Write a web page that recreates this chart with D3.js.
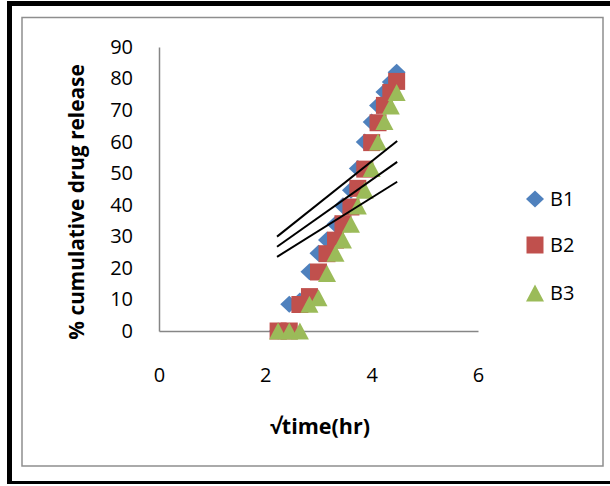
<!DOCTYPE html>
<html><head><meta charset="utf-8">
<script src="https://cdn.jsdelivr.net/npm/d3@7"></script>
<style>body{margin:0;background:#fff} text{font-family:"Open Sans",sans-serif;fill:#000}</style>
</head><body><svg id="c" width="610" height="486"></svg>
<script>
// ---- data ----
const sqrtTime = [2.24,2.45,2.65,2.83,3.00,3.16,3.32,3.46,3.61,3.74,3.87,4.00,4.12,4.24,4.36,4.47];
const B1 = [0,8.5,9.5,18.8,24.6,28.8,33.8,39.7,44.6,51.5,59.9,66.2,71.5,75.7,78.9,82.0];
const B2 = [0,0,8.4,10.9,18.7,24.5,28.8,34.0,39.3,45.2,51.3,59.7,66.0,71.5,75.6,79.1];
const B3 = [0,0,0,8.5,10.5,18.2,24.6,28.8,33.8,39.6,44.6,51.5,59.9,66.4,71.3,75.6];
const seriesNames = ["B1","B2","B3"];
const xTicks = [0,2,4,6];
const yTicks = [0,10,20,30,40,50,60,70,80,90];
const guideX = [2.22,4.48];
const guide1 = [29.9,60.2];
const guide2 = [26.7,53.6];
const guide3 = [23.5,47.3];

// ---- chart ----
const svg = d3.select("#c");
const colors = {B1:"#4F81BD", B2:"#C0504D", B3:"#9BBB59"};
const x = d3.scaleLinear().domain([0,6]).range([159,478]);
const y = d3.scaleLinear().domain([0,90]).range([331,47]);

// frame
svg.append("rect").attr("x",0).attr("y",0).attr("width",610).attr("height",486).attr("fill","#fff");
svg.append("line").attr("x1",9.5).attr("x2",9.5).attr("y1",1).attr("y2",484).attr("stroke","#000").attr("stroke-width",5);
svg.append("line").attr("x1",7).attr("x2",610).attr("y1",3.5).attr("y2",3.5).attr("stroke","#000").attr("stroke-width",5);
svg.append("line").attr("x1",7).attr("x2",610).attr("y1",482.5).attr("y2",482.5).attr("stroke","#000").attr("stroke-width",3);
svg.append("rect").attr("x",22).attr("y",17.5).attr("width",581).attr("height",448.5)
  .attr("fill","none").attr("stroke","#8e8e8e").attr("stroke-width",1.5);

// axes
const fmt = d3.format("d");
const ya = svg.append("g").attr("transform",`translate(${x(0)},0)`)
  .call(d3.axisLeft(y).tickValues(yTicks).tickFormat(fmt).tickSize(0).tickSizeOuter(0).tickPadding(26));
const xa = svg.append("g").attr("transform",`translate(0,${y(0)})`)
  .call(d3.axisBottom(x).tickValues(xTicks).tickFormat(fmt).tickSize(0).tickSizeOuter(0).tickPadding(37));
[ya,xa].forEach(g=>{
  g.select(".domain").attr("stroke","#868686").attr("stroke-width",1.5);
  g.selectAll("text").style("font-family",'"Open Sans",sans-serif').style("font-size","20px").attr("fill","#000");
});

// axis titles
svg.append("text").attr("x",320).attr("y",434).attr("text-anchor","middle")
  .style("font-size","21.5px").style("font-weight","bold").text("√time(hr)");
svg.append("text").attr("transform","translate(84,202) rotate(-90)").attr("text-anchor","middle")
  .style("font-size","20.8px").style("font-weight","bold").text("% cumulative drug release");

// marker shapes
function shape(name){
  if(name==="B1") return "M-9,0L0,-8.5L9,0L0,8.5Z";
  if(name==="B2") return "M-8.5,-8.5H8.5V8.5H-8.5Z";
  return "M-9,8.5L0,-8.5L9,8.5Z";
}
const data = {B1,B2,B3};
seriesNames.forEach(n=>{
  svg.append("g").selectAll("path").data(sqrtTime.map((t,i)=>[t,data[n][i]])).join("path")
    .attr("d",shape(n)).attr("fill",colors[n])
    .attr("transform",d=>`translate(${x(d[0])},${y(d[1])})`);
});

// guide lines
[guide1,guide2,guide3].forEach(g=>{
  svg.append("line").attr("x1",x(guideX[0])).attr("y1",y(g[0]))
    .attr("x2",x(guideX[1])).attr("y2",y(g[1])).attr("stroke","#000").attr("stroke-width",2);
});

// legend
const ly = [199,245,293];
seriesNames.forEach((n,i)=>{
  svg.append("path").attr("d",shape(n)).attr("fill",colors[n]).attr("transform",`translate(535,${ly[i]})`);
  svg.append("text").attr("x",550).attr("y",ly[i]+7).style("font-size","20px").text(n);
});
</script></body></html>
